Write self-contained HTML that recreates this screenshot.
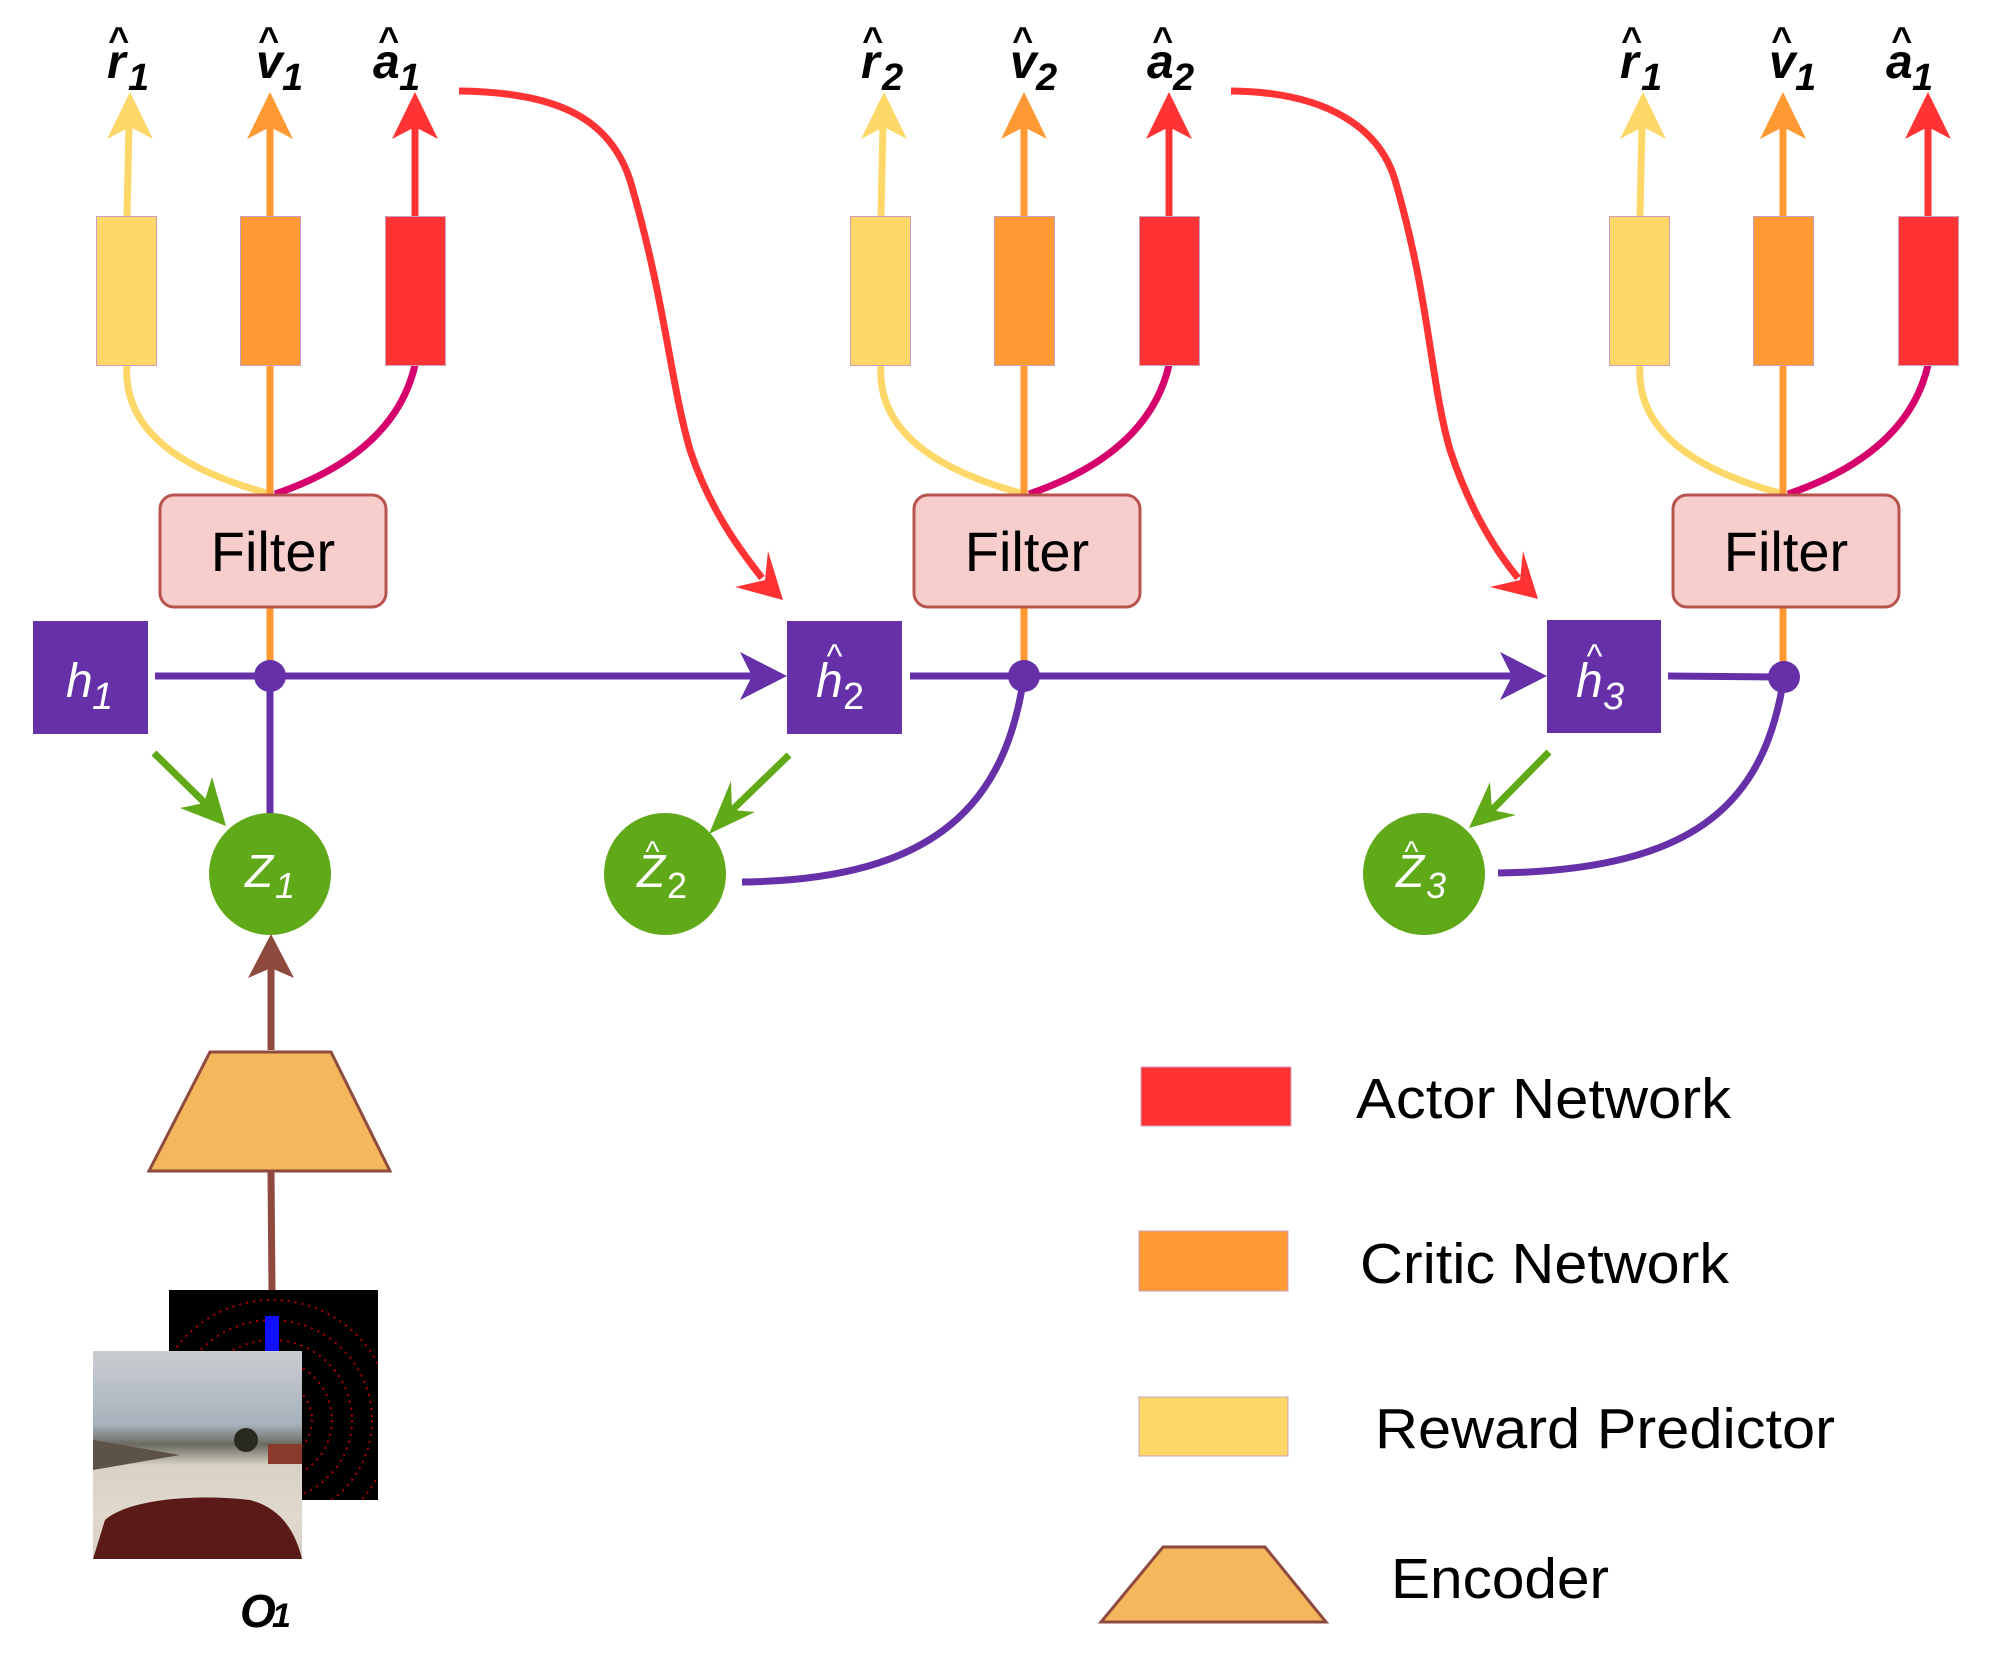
<!DOCTYPE html>
<html><head><meta charset="utf-8"><style>
html,body{margin:0;padding:0;background:#fff;}
svg{display:block;}
.lab{font-family:"Liberation Sans",sans-serif;font-weight:bold;font-style:italic;fill:#000;}
.w{font-family:"Liberation Sans",sans-serif;font-style:italic;fill:#fff;}
.f{font-family:"Liberation Sans",sans-serif;fill:#000;}
</style></head><body>
<svg width="2004" height="1653" viewBox="0 0 2004 1653" xmlns="http://www.w3.org/2000/svg">
<defs>
<linearGradient id="sky" x1="0" y1="0" x2="0" y2="1">
<stop offset="0" stop-color="#c9cdd1"/><stop offset="0.35" stop-color="#a9b3bd"/><stop offset="0.45" stop-color="#6a6a60"/><stop offset="0.55" stop-color="#d8d2c6"/><stop offset="0.8" stop-color="#e0d9cc"/><stop offset="1" stop-color="#d6cfc2"/>
</linearGradient>
<clipPath id="lid"><rect x="169" y="1290" width="209" height="210"/></clipPath>
</defs>

<g id="col1">
<path d="M127,365 C122,440 200,475 270,494" stroke="#fdd868" stroke-width="7" fill="none"/>
<path d="M415,365 C400,430 345,470 275,494" stroke="#d6006c" stroke-width="7" fill="none"/>
<line x1="270" y1="365" x2="270" y2="494" stroke="#ff9933" stroke-width="7"/>
<line x1="127" y1="216" x2="129" y2="125" stroke="#fdd868" stroke-width="7"/>
<polygon points="130,92 153,139 130,127 107,139" fill="#fdd868"/>
<line x1="270" y1="216" x2="270" y2="125" stroke="#ff9933" stroke-width="7"/>
<polygon points="270,92 293,139 270,127 247,139" fill="#ff9933"/>
<line x1="415" y1="216" x2="415" y2="125" stroke="#ff3333" stroke-width="7"/>
<polygon points="415,92 438,139 415,127 392,139" fill="#ff3333"/>
<rect x="96.5" y="216.5" width="60" height="149" fill="#fdd868" stroke="#c9a0c0" stroke-width="1"/>
<rect x="240.5" y="216.5" width="60" height="149" fill="#ff9933" stroke="#c9a0c0" stroke-width="1"/>
<rect x="385.5" y="216.5" width="60" height="149" fill="#ff3333" stroke="#c9a0c0" stroke-width="1"/>
<line x1="270" y1="607" x2="270" y2="676" stroke="#ff9933" stroke-width="7"/>
<rect x="160" y="495" width="226" height="112" rx="14" fill="#f8cecc" stroke="#b85450" stroke-width="3"/>
<text x="273" y="571" class="f" font-size="56" text-anchor="middle">Filter</text>
</g>
<use href="#col1" transform="translate(754,0)"/>
<use href="#col1" transform="translate(1513,0)"/>

<g class="lab">
<text x="118" y="52" font-size="36" text-anchor="middle">^</text>
<text x="107" y="78" font-size="48">r</text><text x="128" y="90" font-size="38">1</text>
<text x="268" y="52" font-size="36" text-anchor="middle">^</text>
<text x="256" y="78" font-size="48">v</text><text x="282" y="90" font-size="38">1</text>
<text x="388" y="52" font-size="36" text-anchor="middle">^</text>
<text x="373" y="78" font-size="48">a</text><text x="399" y="90" font-size="38">1</text>

<text x="872" y="52" font-size="36" text-anchor="middle">^</text>
<text x="861" y="78" font-size="48">r</text><text x="882" y="90" font-size="38">2</text>
<text x="1022" y="52" font-size="36" text-anchor="middle">^</text>
<text x="1010" y="78" font-size="48">v</text><text x="1036" y="90" font-size="38">2</text>
<text x="1162" y="52" font-size="36" text-anchor="middle">^</text>
<text x="1147" y="78" font-size="48">a</text><text x="1173" y="90" font-size="38">2</text>

<text x="1631" y="52" font-size="36" text-anchor="middle">^</text>
<text x="1620" y="78" font-size="48">r</text><text x="1641" y="90" font-size="38">1</text>
<text x="1781" y="52" font-size="36" text-anchor="middle">^</text>
<text x="1769" y="78" font-size="48">v</text><text x="1795" y="90" font-size="38">1</text>
<text x="1901" y="52" font-size="36" text-anchor="middle">^</text>
<text x="1886" y="78" font-size="48">a</text><text x="1912" y="90" font-size="38">1</text>
</g>

<path d="M459,91 C560,92 610,120 630,180 C665,300 670,380 690,450 C710,510 740,550 762,578" stroke="#ff3333" stroke-width="7" fill="none"/>
<polygon points="783,600 768,551 765,580 735,587" fill="#ff3333"/>
<path d="M1231,91 C1330,92 1380,130 1395,180 C1430,300 1430,380 1450,450 C1470,510 1495,550 1518,578" stroke="#ff3333" stroke-width="7" fill="none"/>
<polygon points="1538,599 1523,551 1520,580 1490,587" fill="#ff3333"/>

<line x1="155" y1="676" x2="760" y2="676" stroke="#6530a8" stroke-width="7"/>
<polygon points="787,676 740,652 752,676 740,700" fill="#6530a8"/>
<line x1="910" y1="676" x2="1520" y2="676" stroke="#6530a8" stroke-width="7"/>
<polygon points="1547,676 1500,652 1512,676 1500,700" fill="#6530a8"/>
<line x1="1668" y1="676" x2="1784" y2="677" stroke="#6530a8" stroke-width="7"/>
<circle cx="270" cy="676" r="16" fill="#6530a8"/>
<circle cx="1024" cy="676" r="16" fill="#6530a8"/>
<circle cx="1784" cy="677" r="16" fill="#6530a8"/>
<line x1="270" y1="676" x2="270" y2="815" stroke="#6530a8" stroke-width="7"/>
<path d="M1024,676 C1006,800 940,880 742,882" stroke="#6530a8" stroke-width="7" fill="none"/>
<path d="M1784,677 C1765,800 1700,870 1498,873" stroke="#6530a8" stroke-width="7" fill="none"/>

<rect x="33" y="621" width="115" height="113" fill="#6530a8"/>
<rect x="787" y="621" width="115" height="113" fill="#6530a8"/>
<rect x="1547" y="620" width="114" height="113" fill="#6530a8"/>
<g class="w">
<text x="66" y="697" font-size="48">h</text><text x="92" y="709" font-size="38">1</text>
<text x="834" y="668" font-size="34" text-anchor="middle">^</text>
<text x="816" y="697" font-size="48">h</text><text x="843" y="709" font-size="38" font-style="normal">2</text>
<text x="1594" y="668" font-size="34" text-anchor="middle">^</text>
<text x="1576" y="697" font-size="48">h</text><text x="1603" y="709" font-size="38">3</text>
</g>

<line x1="154" y1="753" x2="212" y2="810" stroke="#60a918" stroke-width="7"/>
<polygon points="226,826 212,777 204,803 180,808" fill="#60a918"/>
<line x1="789" y1="755" x2="727" y2="815" stroke="#60a918" stroke-width="7"/>
<polygon points="709,834 755,812 732,810 731,781" fill="#60a918"/>
<line x1="1549" y1="752" x2="1490" y2="812" stroke="#60a918" stroke-width="7"/>
<polygon points="1469,828 1516,815 1492,810 1490,782" fill="#60a918"/>

<circle cx="270" cy="874" r="61" fill="#60a918"/>
<circle cx="665" cy="874" r="61" fill="#60a918"/>
<circle cx="1424" cy="874" r="61" fill="#60a918"/>
<g class="w">
<text x="245" y="887" font-size="46">Z</text><text x="275" y="898" font-size="36">1</text>
<text x="652" y="862" font-size="30" text-anchor="middle">^</text>
<text x="637" y="887" font-size="46">Z</text><text x="667" y="898" font-size="36" font-style="normal">2</text>
<text x="1411" y="862" font-size="30" text-anchor="middle">^</text>
<text x="1396" y="887" font-size="46">Z</text><text x="1426" y="898" font-size="36">3</text>
</g>

<line x1="271" y1="1050" x2="271" y2="955" stroke="#8e4a3f" stroke-width="7"/>
<polygon points="271,934 294,978 271,968 248,978" fill="#8e4a3f"/>
<polygon points="210,1052 331,1052 390,1171 149,1171" fill="#f5b75b" stroke="#8e4a3f" stroke-width="3"/>
<line x1="271" y1="1171" x2="272" y2="1292" stroke="#8e4a3f" stroke-width="7"/>

<rect x="169" y="1290" width="209" height="210" fill="#000"/>
<g fill="none" stroke="#b00000" stroke-width="2" stroke-dasharray="2 5" clip-path="url(#lid)">
<circle cx="272" cy="1420" r="40"/><circle cx="272" cy="1420" r="60"/><circle cx="272" cy="1420" r="80"/><circle cx="272" cy="1420" r="100"/><circle cx="272" cy="1420" r="120"/>
</g>
<rect x="265" y="1316" width="14" height="36" fill="#1010ff"/>
<rect x="93" y="1351" width="209" height="208" fill="url(#sky)"/>
<path d="M93,1559 L105,1520 C130,1498 200,1494 250,1500 C280,1508 295,1530 302,1559 Z" fill="#5a1a18"/>
<path d="M93,1440 L180,1455 L93,1470 Z" fill="#5c5248"/>
<circle cx="246" cy="1440" r="12" fill="#2a2a20"/>
<rect x="268" y="1444" width="34" height="20" fill="#8a3a2a"/>
<text x="240" y="1627" class="lab" font-size="46">O</text>
<text x="272" y="1627" class="lab" font-size="34">1</text>

<rect x="1141" y="1067" width="150" height="59" fill="#ff3333" stroke="#c9a0c0" stroke-width="1"/>
<rect x="1139" y="1231" width="149" height="60" fill="#ff9933" stroke="#c9a0c0" stroke-width="1"/>
<rect x="1139" y="1397" width="149" height="59" fill="#fdd868" stroke="#c9a0c0" stroke-width="1"/>
<polygon points="1163,1547 1265,1547 1326,1622 1101,1622" fill="#f5b75b" stroke="#8e4a3f" stroke-width="3"/>
<g class="f" font-size="57">
<text x="1356" y="1118" textLength="375" lengthAdjust="spacingAndGlyphs">Actor Network</text>
<text x="1360" y="1283" textLength="369" lengthAdjust="spacingAndGlyphs">Critic Network</text>
<text x="1375" y="1448" textLength="460" lengthAdjust="spacingAndGlyphs">Reward Predictor</text>
<text x="1391" y="1598" textLength="218" lengthAdjust="spacingAndGlyphs">Encoder</text>
</g>
</svg>
</body></html>
